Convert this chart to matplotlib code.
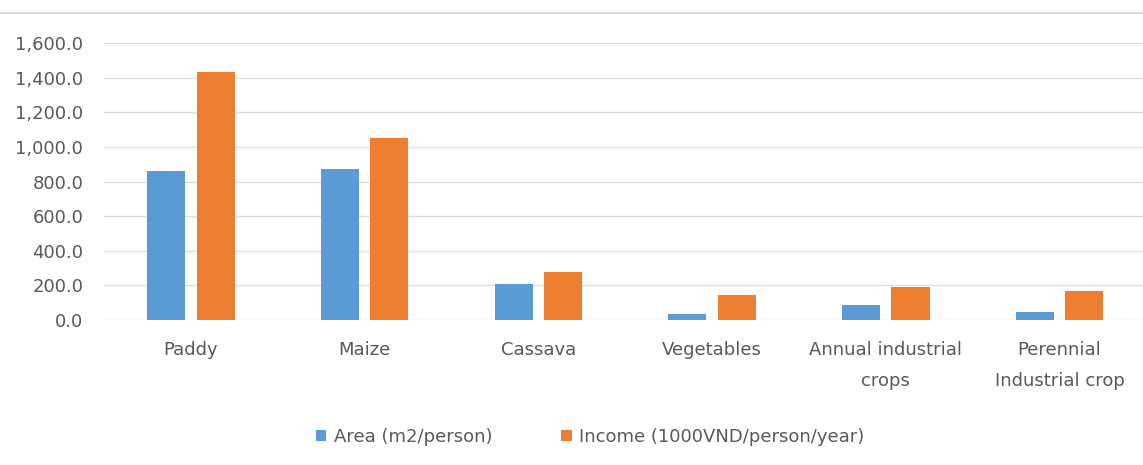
import matplotlib
matplotlib.use("Agg")
import matplotlib.pyplot as plt
import numpy as np
from matplotlib.lines import Line2D

categories = ["Paddy", "Maize", "Cassava", "Vegetables", "Annual industrial\ncrops", "Perennial\nIndustrial crop"]
area = [863, 871, 210, 35, 85, 48]
income = [1432, 1054, 277, 146, 191, 168]
series_names = ["Area (m2/person)", "Income (1000VND/person/year)"]
yticks = [0, 200, 400, 600, 800, 1000, 1200, 1400, 1600]

plt.rcParams['font.family'] = ['DejaVu Sans']
text_color = "#595959"

fig = plt.figure(figsize=(11.43, 4.65), dpi=100)
ax = fig.add_axes([0.091, 0.312, 0.912, 0.595])

x = np.arange(len(categories))
w = 0.219
off = 0.142
ax.bar(x - off, area, width=w, color="#5B9BD5", label=series_names[0], zorder=3)
ax.bar(x + off, income, width=w, color="#ED7D31", label=series_names[1], zorder=3)

ax.set_xlim(-0.5, len(categories) - 0.5)
ax.set_ylim(0, 1600)
ax.set_yticks(yticks)
ax.set_yticklabels([f"{v:,.1f}" for v in yticks])
ax.set_xticks(x)
ax.set_xticklabels(categories, linespacing=1.95)
ax.tick_params(axis='y', length=0, pad=15, labelsize=13, labelcolor=text_color)
ax.tick_params(axis='x', length=0, pad=15, labelsize=13, labelcolor=text_color)
ax.grid(axis='y', color="#DDDDDD", linewidth=1, zorder=0)
for s in ax.spines.values():
    s.set_visible(False)

fig.add_artist(Line2D([0, 1], [1 - 13/465, 1 - 13/465], transform=fig.transFigure, color="#D9D9D9", linewidth=1.5))

fig.legend(loc='center', bbox_to_anchor=(0.516, 0.06), ncol=2, frameon=False,
           fontsize=13, handlelength=0.6, handleheight=0.6, handletextpad=0.4,
           columnspacing=3.8, labelcolor=text_color)

fig.savefig("out.png", dpi=100)
